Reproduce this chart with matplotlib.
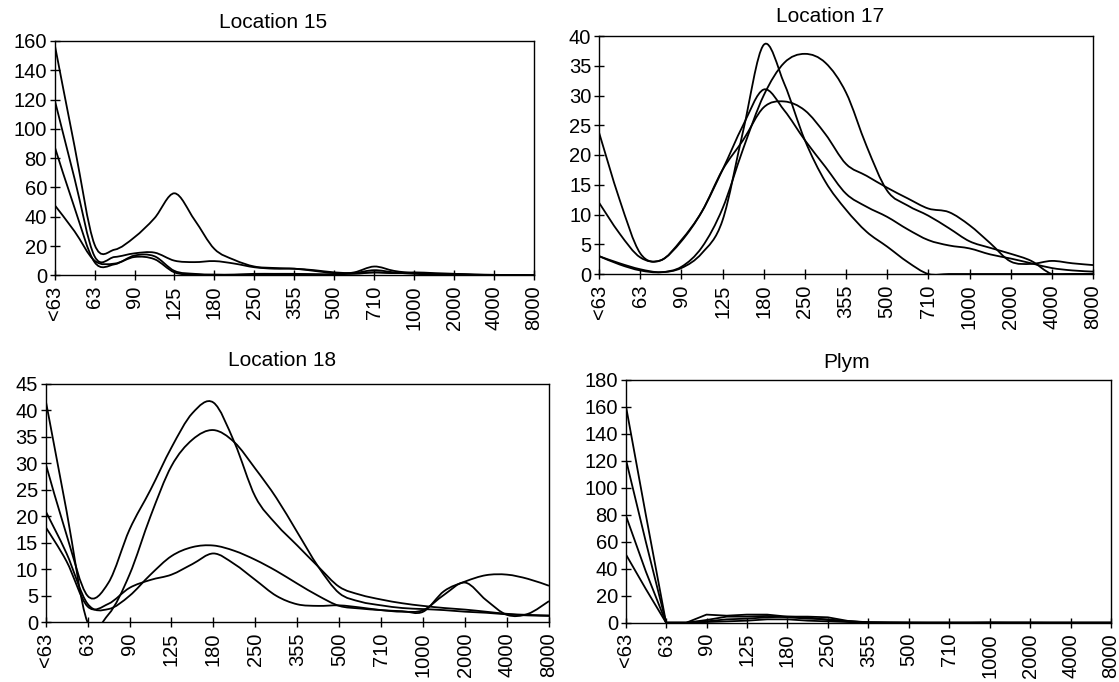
import matplotlib
matplotlib.use("Agg")
import matplotlib.pyplot as plt
from matplotlib.path import Path
from matplotlib.patches import PathPatch

plt.rcParams['font.family'] = ['Liberation Sans', 'DejaVu Sans']

# ---------------- data ----------------
# 25 sieve classes; every second class is labelled on the axis
size_labels = ['<63', '63', '90', '125', '180', '250', '355', '500',
               '710', '1000', '2000', '4000', '8000']

loc15_a = [158, 88, 21, 17.5, 26, 39, 56, 38, 18, 10.5, 6, 5, 4.5, 3.5, 2, 1.5, 2, 1.5, 1.5, 1, 1, 0.5, 0.3, 0.2, 0]
loc15_b = [120, 66, 13, 12.5, 15, 15.5, 10, 9, 9.7, 8, 5.5, 4.5, 4.5, 3, 1.5, 1, 2, 1.5, 2, 1.5, 1, 0.5, 0.3, 0.2, 0]
loc15_c = [88, 46, 9, 7.5, 13.5, 13, 3, 1, 0.5, 0.5, 1, 1, 1, 0.8, 0.8, 2, 6, 3, 1.5, 1, 0.5, 0.3, 0.2, 0.1, 0]
loc15_d = [48, 30, 10, 8, 12.5, 11, 2, 0.5, 0.3, 0.3, 0.5, 0.6, 0.6, 0.5, 0.5, 1.5, 3.5, 2, 1, 0.6, 0.3, 0.2, 0.1, 0, 0]

loc17_a = [23.8, 12.5, 3.5, 2.3, 5.7, 10.5, 17.5, 22.5, 28, 29, 27.5, 23.5, 18.5, 16.5, 14.5, 12.7, 11, 10.4, 8.2, 5.2, 2.1, 1.7, 2.2, 1.8, 1.5]
loc17_b = [12, 6.8, 2.8, 2.3, 5.5, 10.5, 17.5, 25, 31, 27.5, 22.5, 18, 13.5, 11.3, 9.6, 7.5, 5.7, 4.8, 4.3, 3.3, 2.6, 1.8, 1, 0.6, 0.4]
loc17_c = [3, 1.8, 0.8, 0.3, 1, 3.5, 9, 24, 38.5, 32, 22.5, 15.5, 10.8, 7.1, 4.6, 2, 0, 0, 0, 0, 0, 0, 0, 0, 0]
loc17_d = [3, 1.6, 0.6, 0.3, 1.2, 4.5, 11, 21, 30, 35.5, 37, 35.5, 30.5, 21.5, 14, 11.5, 9.8, 7.7, 5.5, 4.4, 3.4, 2.2, 0, 0, 0]

loc18_a = [42, 21, 0, 1.5, 9, 20, 29.5, 34.5, 36.3, 34, 29, 23.5, 17, 10.5, 5.5, 3.9, 3.2, 2.7, 2.5, 2.3, 2.0, 1.8, 1.5, 1.3, 1.2]
loc18_b = [30, 16.5, 5, 7.5, 17.5, 25, 33, 39.5, 41.5, 34, 23.7, 18.5, 14.5, 10.5, 6.7, 5.2, 4.3, 3.6, 3.1, 2.7, 2.4, 2.0, 1.6, 1.4, 1.3]
loc18_c = [21, 13, 3.5, 2.5, 5, 9, 12.5, 14.2, 14.5, 13.5, 11.8, 9.7, 7.3, 5, 3.1, 2.6, 2.3, 2.1, 2.0, 5.9, 7.7, 8.9, 9.0, 8.2, 6.9]
loc18_d = [18, 11.5, 3, 3.5, 6.5, 8, 9, 11, 13, 11, 8, 5, 3.4, 3.1, 3.2, 2.8, 2.3, 2.0, 2.3, 5.2, 7.5, 4.2, 1.4, 1.6, 4]

plym_a = [162, 80, 0, 0, 6, 5.2, 6, 6, 4.5, 4.5, 4, 1.3, 0.3, 0.2, 0.1, 0, 0, 0, 0.2, 0.1, 0.1, 0, 0, 0, 0]
plym_b = [122, 60, 0, 0, 2, 4.5, 4.5, 5, 4, 3, 2.5, 1, 0.3, 0.1, 0, 0, 0, 0, 0, 0, 0, 0, 0, 0, 0]
plym_c = [80, 38, 0, 0, 1, 2.5, 3, 4, 4.5, 4, 2, 1, 0.2, 0, 0, 0, 0, 0, 0, 0, 0, 0, 0, 0, 0]
plym_d = [51, 25, 0, 0, 0.5, 1, 1.5, 2.5, 2.5, 1.5, 1, 0.5, 0, 0, 0, 0, 0, 0, 0, 0, 0, 0, 0, 0, 0]

panels = [
    dict(title='Location 15', series=[loc15_a, loc15_b, loc15_c, loc15_d], ymax=160, ystep=20, smooth=True,
         rect=[54.6, 41, 534, 275.3], tpos=(273, 22)),
    dict(title='Location 17', series=[loc17_a, loc17_b, loc17_c, loc17_d], ymax=40, ystep=5, smooth=True,
         rect=[599, 36, 1093, 274], tpos=(830, 17)),
    dict(title='Location 18', series=[loc18_a, loc18_b, loc18_c, loc18_d], ymax=45, ystep=5, smooth=True,
         rect=[45.6, 384, 549, 622.3], tpos=(282, 360)),
    dict(title='Plym', series=[plym_a, plym_b, plym_c, plym_d], ymax=180, ystep=20, smooth=False,
         rect=[625.6, 380, 1111, 622.7], tpos=(847, 363)),
]

W, H = 1119, 682


def smooth_path(x, y):
    """Cubic Bezier smoothing through every data point (spreadsheet-style smoothed line)."""
    n = len(x)
    verts = [(x[0], y[0])]
    codes = [Path.MOVETO]
    for i in range(n - 1):
        p0 = max(i - 1, 0)
        p3 = min(i + 2, n - 1)
        c1 = (x[i] + (x[i + 1] - x[p0]) / 6.0, y[i] + (y[i + 1] - y[p0]) / 6.0)
        c2 = (x[i + 1] - (x[p3] - x[i]) / 6.0, y[i + 1] - (y[p3] - y[i]) / 6.0)
        verts += [c1, c2, (x[i + 1], y[i + 1])]
        codes += [Path.CURVE4] * 3
    return Path(verts, codes)


fig = plt.figure(figsize=(W / 100, H / 100), dpi=100)
fig.patch.set_facecolor('white')

for p in panels:
    l, t, r, b = p['rect']
    ax = fig.add_axes([l / W, 1 - b / H, (r - l) / W, (b - t) / H])
    n = len(p['series'][0])
    xs = list(range(n))
    for s in p['series']:
        if p['smooth']:
            patch = PathPatch(smooth_path(xs, s), facecolor='none', edgecolor='black', lw=1.3)
            ax.add_patch(patch)
        else:
            ax.plot(xs, s, color='black', lw=1.3)
    ax.set_xlim(0, n - 1)
    ax.set_ylim(0, p['ymax'])
    ax.set_xticks(list(range(0, n, 2)))
    ax.set_xticklabels(size_labels, rotation=90)
    ax.set_yticks(list(range(0, p['ymax'] + 1, p['ystep'])))
    ax.tick_params(axis='both', direction='inout', length=7, width=1.0, colors='black',
                   labelsize=14.5)
    ax.tick_params(axis='x', pad=4)
    ax.tick_params(axis='y', pad=2)
    for sp in ax.spines.values():
        sp.set_color('black')
        sp.set_linewidth(1.0)
    fig.text(p['tpos'][0] / W, 1 - p['tpos'][1] / H, p['title'], ha='center', va='center',
             fontsize=15)

fig.savefig('out.png', dpi=100)
